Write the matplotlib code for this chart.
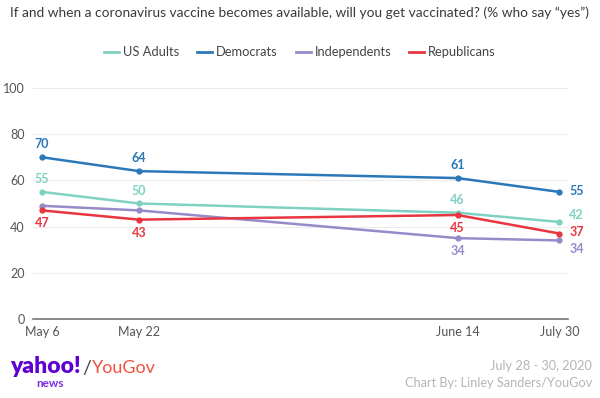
import matplotlib
matplotlib.use('Agg')
import matplotlib.pyplot as plt

# ── Data ────────────────────────────────────────────────────────────────
dates = ["May 6", "May 22", "June 14", "July 30"]
x_pos = [0, 1, 4.28, 5.33]          # uneven spacing as in the original chart

us_adults = [55, 50, 46, 42]
democrats = [70, 64, 61, 55]
independents = [49, 47, 35, 34]
republicans = [47, 43, 45, 37]

# (label text, placement, extra vertical nudge in points)
us_labels = [(55, 'above', 0), (50, 'above', 0), (46, 'above', 0), (42, 'right', 5)]
dem_labels = [(70, 'above', 0), (64, 'above', 0), (61, 'above', 0), (55, 'right', 1)]
ind_labels = [None, None, (34, 'below', 0), (34, 'right', -6.5)]
rep_labels = [(47, 'below', 0), (43, 'below', 0), (45, 'below', 0), (37, 'right', 1)]

series = [
    ("US Adults", us_adults, '#7fd1c2', us_labels),
    ("Democrats", democrats, '#2b78b9', dem_labels),
    ("Independents", independents, '#958bc8', ind_labels),
    ("Republicans", republicans, '#e8353f', rep_labels),
]

plt.rcParams['font.family'] = ['Lato', 'DejaVu Sans']

fig = plt.figure(figsize=(6.0, 3.98), dpi=100)
ax = fig.add_axes([0.055, 0.1985, 0.892, 0.5805])

for name, vals, col, labels in series:
    ax.plot(x_pos, vals, color=col, lw=1.8, marker='o', ms=3.5,
            label=name, solid_joinstyle='round')
    for x, v, lab in zip(x_pos, vals, labels):
        if lab is None:
            continue
        txt, where, dy = lab
        if where == 'above':
            ax.annotate(str(txt), (x, v), xytext=(0, 5 + dy), textcoords='offset points',
                        ha='center', va='bottom', color=col, fontsize=9, fontweight='bold')
        elif where == 'below':
            ax.annotate(str(txt), (x, v), xytext=(0, -5 + dy), textcoords='offset points',
                        ha='center', va='top', color=col, fontsize=9, fontweight='bold')
        else:
            ax.annotate(str(txt), (x, v), xytext=(7, dy), textcoords='offset points',
                        ha='left', va='center', color=col, fontsize=9, fontweight='bold')

ax.set_ylim(0, 100)
ax.set_xlim(-0.093, 5.42)
ax.set_yticks([0, 20, 40, 60, 80, 100])
ax.set_xticks(x_pos)
ax.set_xticklabels(dates)
ax.tick_params(axis='both', length=0, labelsize=9, colors='#555555')
ax.tick_params(axis='y', pad=6)
ax.tick_params(axis='x', pad=5)
ax.grid(axis='y', color='#ececec', lw=0.8)
ax.set_axisbelow(True)
for s in ['top', 'right', 'left']:
    ax.spines[s].set_visible(False)
ax.spines['bottom'].set_color('#777777')
ax.spines['bottom'].set_linewidth(1.2)

fig.text(0.5, 0.967, 'If and when a coronavirus vaccine becomes available, will you get vaccinated? (% who say \u201cyes\u201d)',
         ha='center', va='center', fontsize=9.9, color='#3a3a3a')

leg = fig.legend(loc='center', bbox_to_anchor=(0.5, 0.869), ncol=4, frameon=False,
                 fontsize=9.3, handlelength=1.15, columnspacing=1.4, handletextpad=0.3)
for h in leg.get_lines():
    h.set_marker('')
    h.set_linewidth(2)
for t in leg.get_texts():
    t.set_color('#444444')

# footer logos
fig.text(0.017, 0.078, 'yahoo!', fontsize=16.5, fontweight='heavy', color='#5f01d1',
         ha='left', va='center')
fig.text(0.06, 0.037, 'news', fontsize=8.5, fontweight='bold', color='#7b2be0',
         ha='left', va='center')
fig.text(0.138, 0.075, '/', fontsize=14, color='#444444', ha='left', va='center')
fig.text(0.153, 0.075, 'YouGov', fontsize=13, color='#f0523e', ha='left', va='center')

fig.text(0.987, 0.08, 'July 28 - 30, 2020', fontsize=9.2, color='#b5b5b5', ha='right', va='center')
fig.text(0.987, 0.038, 'Chart By: Linley Sanders/YouGov', fontsize=9.2, color='#b5b5b5',
         ha='right', va='center')

plt.savefig('out.png', dpi=100)
